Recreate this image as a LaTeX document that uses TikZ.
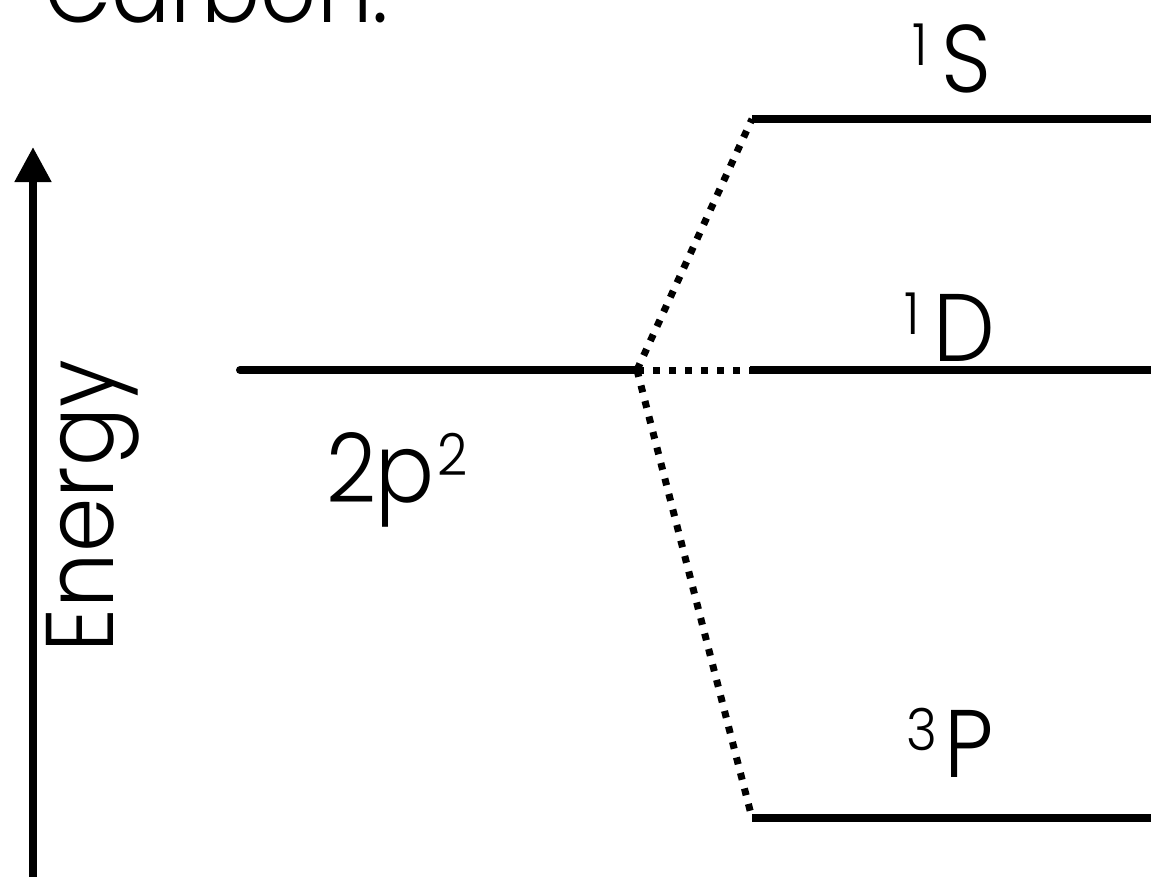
\documentclass[tikz,border=0pt]{standalone}
\usepackage{fontspec}
\setmainfont{Poppins}[UprightFont={* Light}, FakeStretch=0.91]
\usetikzlibrary{arrows.meta}
\tikzset{
  lbl/.style={inner sep=0pt, outer sep=0pt, anchor=base west, font=\fontsize{96}{100}\selectfont},
  level/.style={line width=8pt},
  dots/.style={line width=7pt, dash pattern=on 7pt off 9pt},
  axis/.style={line width=8pt, -{Triangle[length=35pt,width=35pt]}}
}
\newcommand{\supr}[1]{\raisebox{27pt}{\fontsize{58}{60}\selectfont #1}}
\begin{document}
\begin{tikzpicture}[x=1pt,y=-1pt]
\useasboundingbox (0,0) rectangle (1151,876);
\clip (0,0) rectangle (1151,876);
% coordinates
\coordinate (axb) at (33,890);
\coordinate (axt) at (33,147);
\coordinate (pl) at (240,370);
\coordinate (split) at (637,370);
\coordinate (sl) at (752,119);
\coordinate (sr) at (1151,119);
\coordinate (dl) at (750,370);
\coordinate (dr) at (1151,370);
\coordinate (pl3) at (752,818);
\coordinate (pr3) at (1151,818);
% axis
\draw[axis] (axb) -- (axt);
% levels
\draw[level, line cap=round] (pl) -- (split);
\draw[level] (sl) -- (sr);
\draw[level] (dl) -- (dr);
\draw[level] (pl3) -- (pr3);
% dotted connectors
\draw[dots] (split) -- (sl);
\draw[dots] (split) -- (dl);
\draw[dots] (split) -- (pl3);
% labels
\node[lbl] (carbon) at (44,22) {Carbon:};
\node[lbl] (lS) at (912,92) {\supr{1}\hspace{14pt}S};
\node[lbl] (lD) at (904,361) {\supr{1}\hspace{14pt}D};
\node[lbl] (lP) at (906,777) {\supr{3}\hspace{8pt}P};
\node[lbl] (lp2) at (326,502) {2p\hspace{3pt}\supr{2}};
\node[lbl, rotate=90] (energy) at (113,652) {Energy};
\end{tikzpicture}
\end{document}
